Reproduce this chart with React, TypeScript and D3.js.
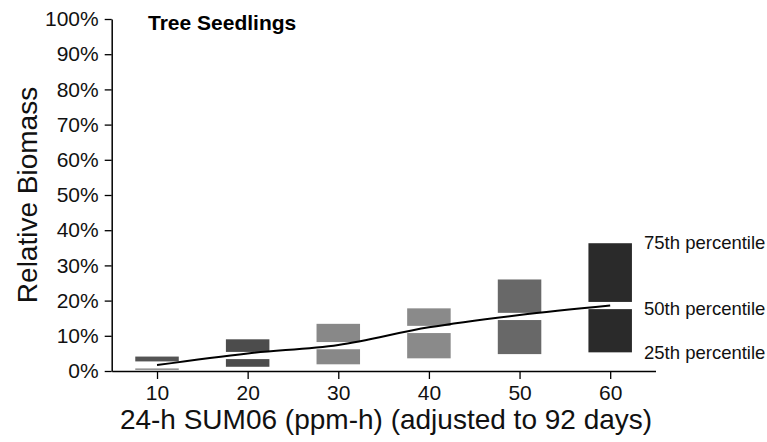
import React, { useEffect, useRef } from 'react';
import * as d3 from 'd3';

// SUM06 dose classes and percentiles of relative biomass loss (%)
const doses = [10, 20, 30, 40, 50, 60];
const p25 = [0.45, 1.2, 1.9, 3.6, 4.8, 5.3];
const p50 = [1.7, 4.4, 7.2, 11.8, 15.5, 18.6];
const p75 = [4.1, 9.0, 13.4, 17.8, 26.0, 36.3];
// smoothed median curve
const trend = [1.7, 5.0, 7.4, 12.4, 15.9, 18.6];
const yMajor = [0, 10, 20, 30, 40, 50, 60, 70, 80, 90, 100];
const yMinor = d3.range(0, 101, 2);
const percentileLabels = ['75th percentile', '50th percentile', '25th percentile'];
const percentileValues = [36.3, 18.6, 5.3];

const labelDy = [6, 9.5, 7];
const boxFill = ['#545454', '#4c4c4c', '#888888', '#8a8a8a', '#686868', '#2a2a2a'];
const FONT = '"Liberation Sans", Arial, Helvetica, sans-serif';

const App = () => {
  const svgRef = useRef<SVGSVGElement>(null);

  useEffect(() => {
    const svg = d3.select(svgRef.current);
    svg.selectAll('*').remove();

    const x = d3.scaleLinear().domain([5, 65]).range([111.7, 655.5]);
    const y = d3.scaleLinear().domain([0, 100]).range([371, 19]);
    const boxW = x(4.8) - x(0);
    const gap = 3.6;

    // boxes, split at the median
    const g = svg.append('g');
    doses.forEach((d, i) => {
      const x0 = x(d) - boxW / 2;
      const yTop = y(p75[i]);
      const yMidA = y(p50[i]) - gap;
      const yMidB = y(p50[i]) + gap;
      const yBot = y(p25[i]);
      g.append('rect')
        .attr('x', x0).attr('y', yTop)
        .attr('width', boxW).attr('height', Math.max(1, yMidA - yTop))
        .attr('fill', boxFill[i]);
      g.append('rect')
        .attr('x', x0).attr('y', yMidB)
        .attr('width', boxW).attr('height', Math.max(1, yBot - yMidB))
        .attr('fill', boxFill[i]);
    });

    // median trend line
    const line = d3.line<number>()
      .x((_, i) => x(doses[i]))
      .y(v => y(v))
      .curve(d3.curveMonotoneX);
    svg.append('path')
      .attr('d', line(trend))
      .attr('fill', 'none')
      .attr('stroke', '#000')
      .attr('stroke-width', 2);

    // y axis
    const yAxis = svg.append('g').attr('transform', `translate(${x(5)},0)`);
    yAxis.call(
      d3.axisLeft(y).tickValues(yMinor).tickSize(4).tickSizeOuter(0).tickFormat(() => '')
    );
    yAxis.call(
      d3.axisLeft(y).tickValues(yMajor).tickSize(7).tickSizeOuter(0).tickPadding(6)
        .tickFormat(v => `${v}%`)
    );
    yAxis.selectAll('path.domain').attr('stroke-width', 1.5);
    yAxis.selectAll('line').attr('stroke-width', 1.3);
    yAxis.selectAll('text')
      .attr('font-family', FONT)
      .attr('font-size', 21)
      .attr('fill', '#111');

    // x axis
    const xAxis = svg.append('g').attr('transform', `translate(0,${y(0)})`);
    xAxis.call(
      d3.axisBottom(x).tickValues(doses).tickSize(8).tickSizeOuter(0).tickPadding(6)
        .tickFormat(d3.format('d'))
    );
    xAxis.selectAll('path.domain').attr('stroke-width', 1.5);
    xAxis.selectAll('line').attr('stroke-width', 1.3);
    xAxis.selectAll('text')
      .attr('font-family', FONT)
      .attr('font-size', 21)
      .attr('fill', '#111');

    // titles
    svg.append('text')
      .attr('x', 148).attr('y', 30)
      .attr('font-family', FONT).attr('font-size', 21).attr('font-weight', 'bold')
      .text('Tree Seedlings');

    svg.append('text')
      .attr('transform', `translate(37,${195}) rotate(-90)`)
      .attr('text-anchor', 'middle')
      .attr('font-family', FONT).attr('font-size', 28)
      .attr('fill', '#111')
      .text('Relative Biomass');

    svg.append('text')
      .attr('x', 386).attr('y', 429)
      .attr('text-anchor', 'middle')
      .attr('font-family', FONT).attr('font-size', 28)
      .attr('fill', '#111')
      .text('24-h SUM06 (ppm-h) (adjusted to 92 days)');

    svg.selectAll('text.pct')
      .data(percentileLabels)
      .enter().append('text')
      .attr('class', 'pct')
      .attr('x', 644)
      .attr('y', (_, i) => y(percentileValues[i]) + labelDy[i])
      .attr('font-family', FONT).attr('font-size', 18.5)
      .attr('fill', '#111')
      .text(d => d);
  }, []);

  return (
    <svg
      ref={svgRef}
      width={767}
      height={442}
      style={{ position: 'absolute', left: 0, top: 0, background: '#fff' }}
    />
  );
};

export default App;
